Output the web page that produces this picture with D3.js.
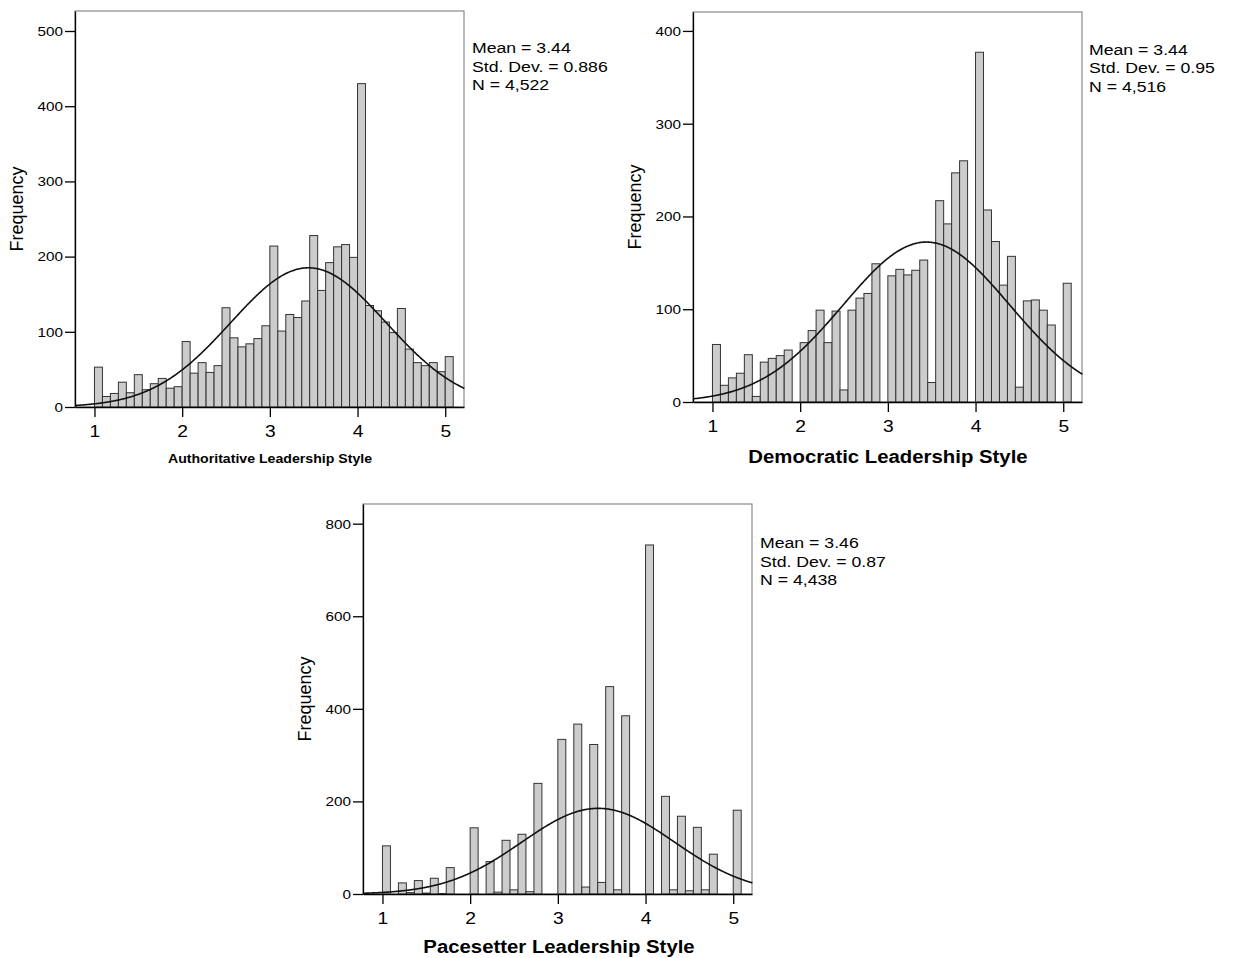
<!DOCTYPE html>
<html>
<head>
<meta charset="utf-8">
<script src="https://cdn.jsdelivr.net/npm/d3@7"></script>
<style>
  body { margin: 0; background: #fff; }
  svg { display: block; }
  text { font-family: Arial, "Liberation Sans", sans-serif; fill: #000; }
</style>
</head>
<body>
<script>
// histogram bins: 45 bins of width 4/44 starting at 1
const binStart = 1;
const binWidth = 4 / 44;
const xTicks = [1, 2, 3, 4, 5];

const authoritativeCounts = [
  53, 14, 18, 33, 19, 43, 23, 31, 38, 25, 27,
  87, 45, 59, 46, 55, 132, 92, 80, 84, 91, 108,
  214, 101, 123, 119, 141, 228, 155, 192, 213, 216, 199,
  430, 135, 128, 113, 99, 131, 77, 59, 55, 59, 47,
  67
];
const democraticCounts = [
  62, 18, 26, 31, 51, 6, 43, 47, 50, 56, 0,
  64, 77, 99, 64, 98, 13, 99, 112, 117, 149, 0,
  136, 143, 137, 142, 153, 21, 217, 192, 247, 260, 0,
  377, 207, 173, 126, 157, 16, 109, 110, 99, 83, 0,
  128
];
const pacesetterCounts = [
  104, 0, 24, 3, 29, 2, 34, 1, 57, 0, 0,
  143, 0, 70, 4, 116, 9, 129, 5, 239, 0, 0,
  334, 0, 367, 15, 323, 25, 448, 9, 385, 0, 0,
  754, 0, 211, 9, 168, 7, 144, 9, 86, 0, 0,
  181
];

const styleNames = [
  "Authoritative Leadership Style",
  "Democratic Leadership Style",
  "Pacesetter Leadership Style"
];
const means = [3.44, 3.44, 3.46];
const stdDevs = [0.886, 0.95, 0.87];
const ns = [4522, 4516, 4438];
const statLabels = [
  ["Mean = 3.44", "Std. Dev. = 0.886", "N = 4,522"],
  ["Mean = 3.44", "Std. Dev. = 0.95", "N = 4,516"],
  ["Mean = 3.46", "Std. Dev. = 0.87", "N = 4,438"]
];
const yTickValues = [
  [0, 100, 200, 300, 400, 500],
  [0, 100, 200, 300, 400],
  [0, 200, 400, 600, 800]
];
const yMaxes = [526.6, 420.4, 842.5];
const xDomain = [0.778, 5.214];

// panel layout (pixels)
const panels = [
  { counts: authoritativeCounts, left: 75, top: 11, right: 464, bottom: 407,
    statsX: 472, statsY: 53, labelX: 270, labelY: 463, labelSize: 12.5 },
  { counts: democraticCounts, left: 693, top: 12, right: 1082, bottom: 402,
    statsX: 1089, statsY: 54.5, labelX: 888, labelY: 463, labelSize: 18 },
  { counts: pacesetterCounts, left: 363, top: 504, right: 752, bottom: 894,
    statsX: 760, statsY: 548, labelX: 559, labelY: 953, labelSize: 18 }
];

const width = 1236;
const height = 958;

const svg = d3.select("body").append("svg")
  .attr("width", width)
  .attr("height", height)
  .attr("viewBox", [0, 0, width, height]);

// the reference text is a bit wider than plain Arial
const stretch = (sel, k = 1.13) => sel.each(function () {
  const len = this.getComputedTextLength();
  d3.select(this).attr("textLength", len * k).attr("lengthAdjust", "spacingAndGlyphs");
});

const normal = (x, m, s) => Math.exp(-0.5 * ((x - m) / s) ** 2) / (s * Math.sqrt(2 * Math.PI));

panels.forEach((p, i) => {
  const x = d3.scaleLinear().domain(xDomain).range([p.left, p.right]);
  const y = d3.scaleLinear().domain([0, yMaxes[i]]).range([p.bottom, p.top]);
  const g = svg.append("g");

  // frame
  g.append("rect")
    .attr("x", p.left).attr("y", p.top)
    .attr("width", p.right - p.left).attr("height", p.bottom - p.top)
    .attr("fill", "none").attr("stroke", "#8a8a8a").attr("stroke-width", 1.2);

  // bars
  const bins = p.counts.map((c, k) => ({ x0: binStart + k * binWidth, count: c }))
    .filter((d) => d.count > 0);
  g.append("g")
    .selectAll("rect")
    .data(bins)
    .join("rect")
    .attr("x", (d) => x(d.x0))
    .attr("y", (d) => y(d.count))
    .attr("width", (d) => x(d.x0 + binWidth) - x(d.x0))
    .attr("height", (d) => y(0) - y(d.count))
    .attr("fill", "#cccccc")
    .attr("stroke", "#333")
    .attr("stroke-width", 1);

  // normal curve
  const scale = ns[i] * binWidth;
  const pts = d3.range(xDomain[0], xDomain[1] + 0.005, 0.01)
    .map((v) => [v, scale * normal(v, means[i], stdDevs[i])]);
  g.append("path")
    .datum(pts)
    .attr("fill", "none")
    .attr("stroke", "#111")
    .attr("stroke-width", 1.6)
    .attr("d", d3.line().x((d) => x(d[0])).y((d) => y(d[1])).curve(d3.curveBasis));

  // axes
  const yAxis = g.append("g")
    .attr("transform", `translate(${p.left},0)`)
    .call(d3.axisLeft(y).tickValues(yTickValues[i]).tickSize(10).tickSizeOuter(0).tickPadding(2));
  yAxis.select(".domain").attr("stroke", "#000").attr("stroke-width", 1.3);
  yAxis.selectAll(".tick line").attr("stroke", "#000").attr("stroke-width", 1.3);
  yAxis.selectAll("text")
    .attr("font-size", 13.5).attr("fill", "#222").attr("font-family", null)
    .call(stretch);

  const xAxis = g.append("g")
    .attr("transform", `translate(0,${p.bottom})`)
    .call(d3.axisBottom(x).tickValues(xTicks).tickSize(10).tickSizeOuter(0).tickFormat(d3.format("d")));
  xAxis.select(".domain").attr("stroke", "#000").attr("stroke-width", 1.3);
  xAxis.selectAll(".tick line").attr("stroke", "#000").attr("stroke-width", 1.3);
  xAxis.selectAll("text")
    .attr("font-size", 17).attr("fill", "#000").attr("font-family", null)
    .attr("y", 30).attr("dy", null)
    .call(stretch);

  // axis titles
  g.append("text")
    .attr("transform", `translate(${p.left - 52},${(p.top + p.bottom) / 2}) rotate(-90)`)
    .attr("text-anchor", "middle")
    .attr("font-size", 18)
    .text("Frequency");

  g.append("text")
    .attr("x", p.labelX).attr("y", p.labelY)
    .attr("text-anchor", "middle")
    .attr("font-weight", "bold")
    .attr("font-size", p.labelSize)
    .text(styleNames[i])
    .call(stretch);

  // stats box
  g.append("g")
    .selectAll("text")
    .data(statLabels[i])
    .join("text")
    .attr("x", p.statsX)
    .attr("y", (d, k) => p.statsY + k * 18.6)
    .attr("font-size", 15.5)
    .text((d) => d)
    .call(stretch, 1.14);
});
</script>
</body>
</html>
